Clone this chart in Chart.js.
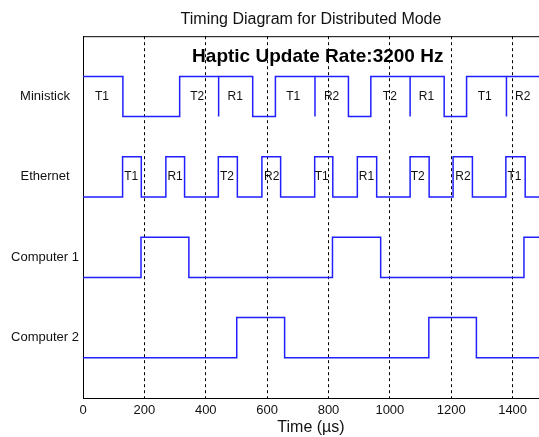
<!DOCTYPE html>
<html>
<head>
<meta charset="utf-8">
<script src="https://cdn.jsdelivr.net/npm/chart.js@4/dist/chart.umd.min.js"></script>
<style>
  html, body { margin: 0; padding: 0; background: #fff; overflow: hidden; }
  canvas { display: block; }
</style>
</head>
<body>
<canvas id="timingChart" width="539" height="437"></canvas>
<script>
// Filas del diagrama (de abajo hacia arriba)
const rowNames = ['Computer 2', 'Computer 1', 'Ethernet', 'Ministick'];
const rowTicks = [1.5, 3.5, 5.5, 7.5];

// Tiempos de transición (µs) y nivel después de cada transición (0 = bajo, 1 = alto)
const ministickEdges = [0, 130, 315, 442, 442, 553, 627, 756, 756, 865, 938, 1066, 1066, 1177, 1250, 1380, 1380, 1486];
const ministickLevels = [1, 0, 1, 0, 1, 0, 1, 0, 1, 0, 1, 0, 1, 0, 1, 0, 1, 1];

const ethernetEdges = [0, 129, 190, 270, 331, 441, 503, 583, 644, 755, 814, 894, 957, 1066, 1128, 1206, 1269, 1378, 1441, 1486];
const ethernetLevels = [0, 1, 0, 1, 0, 1, 0, 1, 0, 1, 0, 1, 0, 1, 0, 1, 0, 1, 0, 0];

const computer1Edges = [0, 189, 345, 813, 970, 1437, 1486];
const computer1Levels = [0, 1, 0, 1, 0, 1, 1];

const computer2Edges = [0, 501, 657, 1127, 1282, 1486];
const computer2Levels = [0, 1, 0, 1, 0, 0];

// Etiquetas de cada fase (texto y posición en µs)
const ministickTags = ['T1', 'T2', 'R1', 'T1', 'R2', 'T2', 'R1', 'T1', 'R2'];
const ministickTagTimes = [62, 372, 496, 685, 810, 1000, 1119, 1309, 1433];
const ethernetTags = ['T1', 'R1', 'T2', 'R2', 'T1', 'R1', 'T2', 'R2', 'T1'];
const ethernetTagTimes = [157, 300, 469, 615, 778, 924, 1091, 1238, 1406];

const xTicks = [0, 200, 400, 600, 800, 1000, 1200, 1400];

const FONT = "'Liberation Sans', Arial, sans-serif";
const LINE_COLOR = '#1f1fff';

/**
 * Construye los puntos de una señal a partir de sus transiciones.
 */
function buildSignal(edges, levels, base) {
    return edges.map((t, i) => ({ x: t, y: base + levels[i] }));
}

// Plugin: borde superior, subtítulo y etiquetas de fases
const annotationsPlugin = {
    id: 'annotations',
    afterDatasetsDraw(chart) {
        const { ctx, chartArea, scales } = chart;
        const xs = scales.x, ys = scales.y;

        ctx.save();
        // borde superior del área
        ctx.strokeStyle = '#000';
        ctx.lineWidth = 1;
        ctx.beginPath();
        ctx.moveTo(chartArea.left, chartArea.top + 0.5);
        ctx.lineTo(chartArea.right, chartArea.top + 0.5);
        ctx.stroke();

        // subtítulo
        ctx.fillStyle = '#000';
        ctx.textAlign = 'center';
        ctx.textBaseline = 'middle';
        ctx.font = 'bold 19px ' + FONT;
        ctx.fillText('Haptic Update Rate:3200 Hz', xs.getPixelForValue(765), ys.getPixelForValue(8.5));

        // etiquetas T1/R1...
        ctx.font = '12px ' + FONT;
        ctx.fillStyle = '#111';
        ministickTags.forEach((tag, i) => {
            ctx.fillText(tag, xs.getPixelForValue(ministickTagTimes[i]), ys.getPixelForValue(7.5));
        });
        ethernetTags.forEach((tag, i) => {
            ctx.fillText(tag, xs.getPixelForValue(ethernetTagTimes[i]), ys.getPixelForValue(5.5));
        });
        ctx.restore();
    }
};

const signalStyle = {
    borderColor: LINE_COLOR,
    borderWidth: 1.5,
    pointRadius: 0,
    stepped: 'before',
    fill: false,
};

new Chart(document.getElementById('timingChart').getContext('2d'), {
    type: 'line',
    data: {
        datasets: [
            { label: 'Ministick', data: buildSignal(ministickEdges, ministickLevels, 7), ...signalStyle },
            { label: 'Ethernet', data: buildSignal(ethernetEdges, ethernetLevels, 5), ...signalStyle },
            { label: 'Computer 1', data: buildSignal(computer1Edges, computer1Levels, 3), ...signalStyle },
            { label: 'Computer 2', data: buildSignal(computer2Edges, computer2Levels, 1), ...signalStyle },
        ],
    },
    options: {
        responsive: false,
        animation: false,
        layout: { padding: 0 },
        plugins: {
            legend: { display: false },
            tooltip: { enabled: false },
            title: {
                display: true,
                text: 'Timing Diagram for Distributed Mode',
                fullSize: false,
                color: '#111',
                font: { family: FONT, size: 16, weight: 'normal' },
                padding: { top: 10, bottom: 7 },
            },
        },
        scales: {
            x: {
                type: 'linear',
                min: 0,
                max: 1486,
                afterBuildTicks: (scale) => { scale.ticks = xTicks.map(v => ({ value: v })); },
                afterFit: (scale) => { scale.height = 39; },
                ticks: {
                    color: '#111',
                    font: { family: FONT, size: 13 },
                    padding: 5,
                    maxRotation: 0,
                    callback: (value) => String(value),
                },
                grid: {
                    drawTicks: false,
                    color: (ctx) => (ctx.tick && ctx.tick.value === 0 ? 'rgba(0,0,0,0)' : '#000'),
                    lineWidth: 1,
                },
                border: { display: true, color: '#000', width: 1, dash: [3, 3] },
                title: {
                    display: true,
                    text: 'Time (µs)',
                    color: '#111',
                    font: { family: FONT, size: 16 },
                    padding: 0,
                },
            },
            y: {
                type: 'linear',
                min: 0,
                max: 9,
                afterBuildTicks: (scale) => { scale.ticks = rowTicks.map(v => ({ value: v })); },
                afterFit: (scale) => { scale.width = 83; },
                ticks: {
                    color: '#111',
                    font: { family: FONT, size: 13 },
                    padding: 4,
                    crossAlign: 'center',
                    callback: (value) => rowNames[rowTicks.indexOf(value)] || '',
                },
                grid: { display: false, drawTicks: false },
                border: { display: true, color: '#000', width: 1 },
            },
        },
    },
    plugins: [annotationsPlugin],
});
</script>
</body>
</html>
